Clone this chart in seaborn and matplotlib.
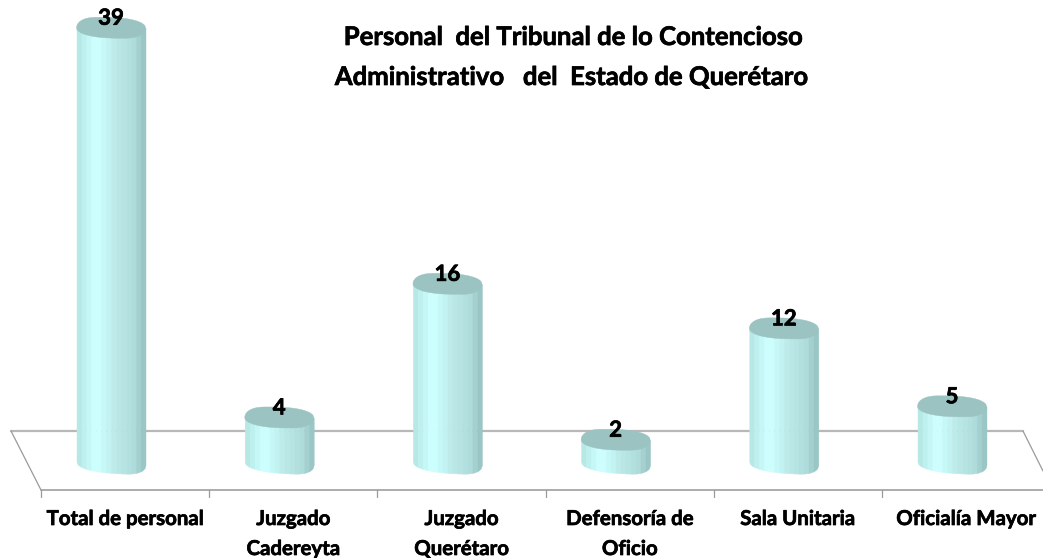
import numpy as np
import pandas as pd
import matplotlib
matplotlib.use("Agg")
import matplotlib.pyplot as plt
import matplotlib.patheffects as pe
import seaborn as sns

categories = ["Total de personal", "Juzgado\nCadereyta", "Juzgado\nQuerétaro",
              "Defensoría de\nOficio", "Sala Unitaria", "Oficialía Mayor"]
values = [39, 4, 16, 2, 12, 5]
title_lines = ["Personal  del Tribunal de lo Contencioso",
               "Administrativo   del  Estado de Querétaro"]

# facet colours of the cylinder, left to right
facets = ["#b6e8e6", "#bdf0ee", "#c4f7f6", "#ccfefe", "#ccfefe", "#c6f8f7", "#c2f3f2", "#bcebea",
          "#b8e7e6", "#b5e4e3", "#b1e0df", "#aedcdb", "#a4d1d0", "#9ac6c5"]
CAP = "#9bc3c2"

sns.set_style("white")
plt.rcParams["font.family"] = ["Lato", "DejaVu Sans"]
plt.rcParams["font.weight"] = "bold"

W, H = 1043, 558
X0, DX = 111.0, 168.2   # pixel of first bar, pixels per category
Y0, DY = 462.0, 11.135  # pixel of value 0, pixels per unit
THICK = [pe.withStroke(linewidth=0.5, foreground="black")]


def px(x):
    return (x - X0) / DX


def py(y):
    return (Y0 - y) / DY


def edge(s, sign, height):
    # skewed half outline, s from -1 to 1; sign=-1 top edge, sign=1 bottom edge
    peak = 0.36 * sign
    w = np.where(s < peak, (peak - s) / (1 + peak), (s - peak) / (1 - peak))
    return height * np.sqrt(np.clip(1 - w ** 2.6, 0, 1))


fig = plt.figure(figsize=(W / 100, H / 100), dpi=100)
ax = fig.add_axes([0, 0, 1, 1])

df = pd.DataFrame({"cat": categories, "val": values})
sns.barplot(data=df, x="cat", y="val", width=69 / DX, color=facets[3], saturation=1, ax=ax, zorder=2)

ax.set_xlim(px(0), px(W))
ax.set_ylim(py(H), py(0))
ax.axis("off")

# floor of the 3d plot
ax.plot([px(11), px(1023)], [py(431), py(431)], color="#b8b8b8", lw=1.6, zorder=1)
ax.plot([px(41), px(W)], [py(490), py(490)], color="#a6a6a6", lw=1.3, zorder=1)
ax.plot([px(11), px(41)], [py(431), py(490)], color="#9a9a9a", lw=0.9, zorder=1)
ax.plot([px(1023), px(1043)], [py(431), py(471)], color="#9a9a9a", lw=0.9, zorder=1)
for i in range(6):
    tx = px(41) + i
    ax.plot([tx, tx], [py(490), py(497)], color="#9a9a9a", lw=0.9, zorder=1)

# turn the flat bars into cylinders
n = len(facets)
for bar, v in zip(ax.patches, values):
    left, w = bar.get_x(), bar.get_width()
    bar.set_visible(False)
    edges = np.linspace(-1, 1, n + 1)
    for j in range(n):
        s = np.linspace(edges[j], edges[j + 1], 6)
        xs = left + (s + 1) / 2 * w
        low = -(edge(s, 1, 9.5) + 1.5 * (s + 1)) / DY
        ax.fill_between(xs, low, v, color=facets[j], lw=0.3, zorder=2)
    s = np.linspace(-1, 1, 160)
    xs = left + (s + 1) / 2 * w
    top = v + edge(s, -1, 10.5) / DY
    bottom = v - edge(s, 1, 10.5) / DY
    ax.fill(np.r_[xs, xs[::-1]], np.r_[top, bottom[::-1]], color=CAP, lw=0.3, zorder=3)
    ax.text(left + w / 2, v + 9.5 / DY, str(v), ha="center", va="center", path_effects=THICK,
            fontsize=16, fontweight="bold", color="black", zorder=4)

# category labels sit in the middle of the floor cells
for i, cat in enumerate(categories):
    for k, line in enumerate(cat.split("\n")):
        ax.text(i + px(41) + 0.5, py(519 + 30 * k), line, ha="center", va="center", path_effects=THICK,
                fontsize=14.7, fontweight="bold", color="black", zorder=4)

ax.text(px(574), py(37), title_lines[0], ha="center", va="center", path_effects=THICK,
        fontsize=18.5, fontweight="bold", color="black")
ax.text(px(572), py(77), title_lines[1], ha="center", va="center", path_effects=THICK,
        fontsize=18.5, fontweight="bold", color="black")

fig.savefig("out.png", dpi=100)
